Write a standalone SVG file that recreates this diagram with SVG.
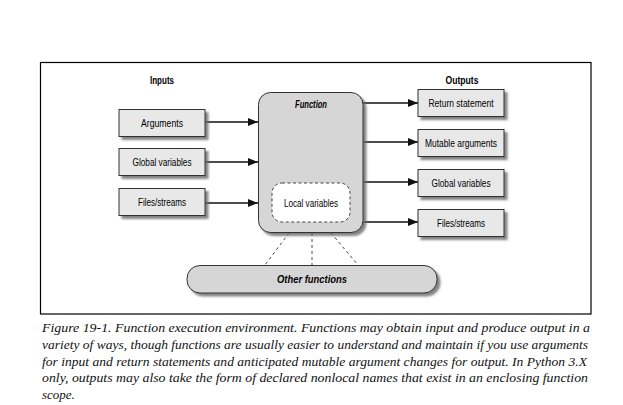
<svg xmlns="http://www.w3.org/2000/svg" width="623" height="405" viewBox="0 0 623 405">
<defs>
<filter id="sh" x="-10%" y="-10%" width="130%" height="140%">
<feDropShadow dx="3" dy="3" stdDeviation="1.2" flood-color="#666" flood-opacity="0.8"/>
</filter>
<marker id="ah" viewBox="0 0 10 8" refX="10" refY="4" markerWidth="10" markerHeight="8" markerUnits="userSpaceOnUse" orient="auto">
<path d="M0,0 L10,4 L0,8 Z" fill="#111"/>
</marker>
</defs>
<style>
.box{fill:#e8e8e8;stroke:#333;stroke-width:1}
.fn{fill:#d6d6d6;stroke:#333;stroke-width:1}
.lbl{font-family:"Liberation Sans",Arial,sans-serif;font-size:11.5px;fill:#000;text-anchor:middle}
.hdr{font-weight:bold}
.it{font-style:italic;font-weight:bold}
.cap{font-family:"Liberation Serif",serif;font-style:italic;font-size:13px;fill:#111}
.arr{stroke:#111;stroke-width:1.3;fill:none;marker-end:url(#ah)}
.dash{stroke:#333;stroke-width:0.9;stroke-dasharray:3,3;fill:none}
</style>
<rect width="623" height="405" fill="#fff"/>
<rect x="40.5" y="62.5" width="550.5" height="251.5" fill="none" stroke="#000" stroke-width="1.2"/>

<text class="lbl hdr" x="162" y="84" textLength="24" lengthAdjust="spacingAndGlyphs">Inputs</text>
<text class="lbl hdr" x="462" y="84" textLength="33" lengthAdjust="spacingAndGlyphs">Outputs</text>

<g id="connectors">
<line class="arr" x1="205" y1="122" x2="258" y2="122"/>
<line class="arr" x1="205" y1="162" x2="258" y2="162"/>
<line class="arr" x1="205" y1="203" x2="258" y2="203"/>
<line class="arr" x1="363" y1="103" x2="418" y2="103"/>
<line class="arr" x1="363" y1="142" x2="418" y2="142"/>
<line class="arr" x1="363" y1="182" x2="418" y2="182"/>
<line class="arr" x1="363" y1="222" x2="418" y2="222"/>
<line class="dash" x1="289" y1="233" x2="265" y2="265"/>
<line class="dash" x1="312" y1="233" x2="312" y2="265"/>
<line class="dash" x1="331" y1="233" x2="358" y2="265"/>
</g>

<g id="in-arguments">
<rect class="box" x="119" y="109.5" width="86" height="27" filter="url(#sh)"/>
<text class="lbl" x="162" y="127" textLength="42" lengthAdjust="spacingAndGlyphs">Arguments</text>
</g>
<g id="in-global">
<rect class="box" x="119" y="148.5" width="86" height="27" filter="url(#sh)"/>
<text class="lbl" x="162" y="166" textLength="59" lengthAdjust="spacingAndGlyphs">Global variables</text>
</g>
<g id="in-files">
<rect class="box" x="119" y="188.5" width="86" height="27" filter="url(#sh)"/>
<text class="lbl" x="162" y="206" textLength="48" lengthAdjust="spacingAndGlyphs">Files/streams</text>
</g>

<g id="function">
<rect class="fn" x="258.5" y="92.5" width="104.5" height="140" rx="12" filter="url(#sh)"/>
<text class="lbl it" x="311" y="108" textLength="32" lengthAdjust="spacingAndGlyphs">Function</text>
</g>
<g id="local-variables">
<rect x="272" y="183" width="78" height="39" rx="10" fill="#fff" stroke="#333" stroke-width="0.9" stroke-dasharray="3,2.5"/>
<text class="lbl" x="311" y="207" textLength="54" lengthAdjust="spacingAndGlyphs">Local variables</text>
</g>

<g id="out-return">
<rect class="box" x="418" y="89.5" width="86" height="27" filter="url(#sh)"/>
<text class="lbl" x="461" y="107" textLength="65" lengthAdjust="spacingAndGlyphs">Return statement</text>
</g>
<g id="out-mutable">
<rect class="box" x="418" y="129.5" width="86" height="27" filter="url(#sh)"/>
<text class="lbl" x="461" y="147" textLength="72" lengthAdjust="spacingAndGlyphs">Mutable arguments</text>
</g>
<g id="out-global">
<rect class="box" x="418" y="169.5" width="86" height="27" filter="url(#sh)"/>
<text class="lbl" x="461" y="187" textLength="59" lengthAdjust="spacingAndGlyphs">Global variables</text>
</g>
<g id="out-files">
<rect class="box" x="418" y="209.5" width="86" height="27" filter="url(#sh)"/>
<text class="lbl" x="461" y="227" textLength="48" lengthAdjust="spacingAndGlyphs">Files/streams</text>
</g>

<g id="other-functions">
<rect class="fn" x="187" y="265.5" width="250" height="27.5" rx="13" filter="url(#sh)"/>
<text class="lbl it" x="312" y="283" textLength="70" lengthAdjust="spacingAndGlyphs">Other functions</text>
</g>

<g id="caption">
<text class="cap" x="42" y="332" textLength="548" lengthAdjust="spacingAndGlyphs">Figure 19-1. Function execution environment. Functions may obtain input and produce output in a</text>
<text class="cap" x="42" y="348.75" textLength="546" lengthAdjust="spacingAndGlyphs">variety of ways, though functions are usually easier to understand and maintain if you use arguments</text>
<text class="cap" x="42" y="365.5" textLength="545" lengthAdjust="spacingAndGlyphs">for input and return statements and anticipated mutable argument changes for output. In Python 3.X</text>
<text class="cap" x="42" y="382.25" textLength="546" lengthAdjust="spacingAndGlyphs">only, outputs may also take the form of declared nonlocal names that exist in an enclosing function</text>
<text class="cap" x="42" y="399">scope.</text>
</g>
</svg>
